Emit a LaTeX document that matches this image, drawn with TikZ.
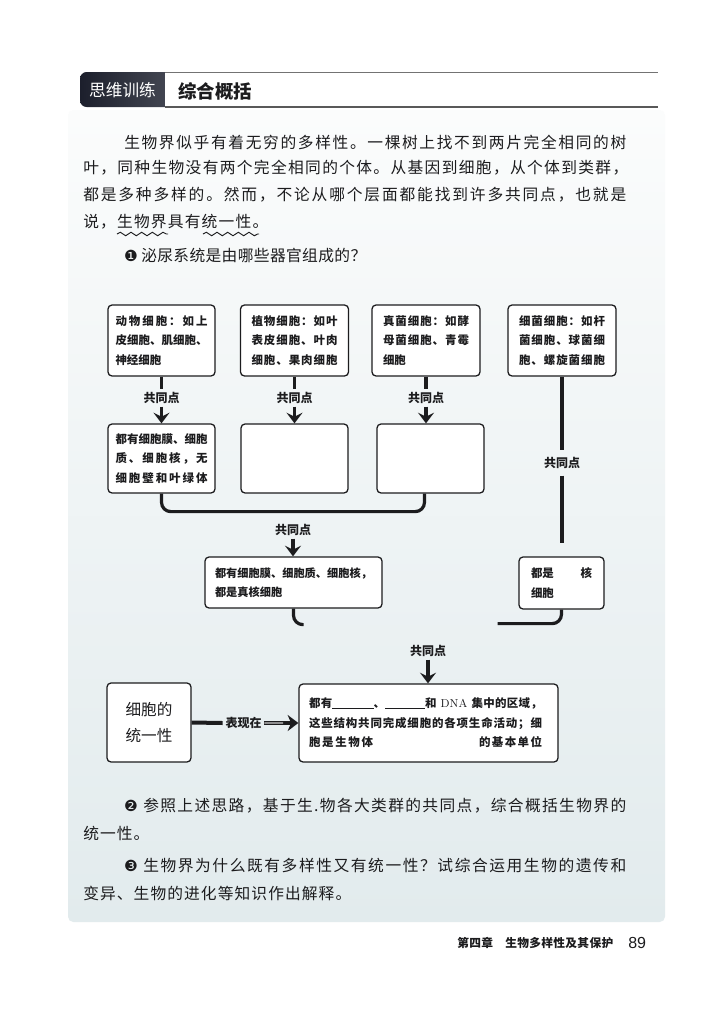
\documentclass[tikz,border=0pt]{standalone}
\usepackage{fontspec}
\newfontfamily\cjk{Noto Sans CJK SC}
\newfontfamily\dejavu{DejaVu Sans}
\newfontfamily\sansf{Liberation Sans}
\usetikzlibrary{arrows.meta,calc,decorations.pathmorphing}
\makeatletter
\def\jl@end{\jl@end}
\def\jl@a#1{\ifx#1\jl@end\else #1\expandafter\jl@b\fi}
\def\jl@b#1{\ifx#1\jl@end\else\hskip 0pt plus 1fil\relax #1\expandafter\jl@b\fi}
\newcommand\jl[2]{\makebox[\dimexpr #1pt*3/4\relax][s]{\jl@a#2\jl@end}}
\makeatother
\definecolor{ink}{RGB}{28,28,30}
\definecolor{hdA}{RGB}{28,31,44}
\definecolor{hdB}{RGB}{72,75,86}
\definecolor{panT}{RGB}{251,252,252}
\definecolor{panB}{RGB}{226,235,237}
\begin{document}
\begin{tikzpicture}[x=0.75pt,y=-0.75pt,
  body/.style={font=\cjk\fontsize{11.8}{13}\selectfont, inner sep=0pt, anchor=west, text=ink},
  cbox/.style={draw=ink, line width=0.95pt, rounded corners=3pt, fill=white, text=ink, align=left, inner ysep=0pt, font=\cjk\bfseries\fontsize{8.6}{14.6}\selectfont},
  lbl/.style={font=\cjk\bfseries\fontsize{9}{10}\selectfont, inner sep=2pt, text=ink},
  arr/.style={draw=ink, line width=2.3pt, -{Stealth[length=8pt,width=12pt,inset=3pt]}},
  stub/.style={draw=ink, line width=2.6pt},
  vline/.style={draw=ink, line width=3pt},
  bracket/.style={draw=ink, line width=2.4pt, rounded corners=7pt},
  wavy/.style={draw=ink, line width=0.7pt, decorate, decoration={snake, amplitude=1.3pt, segment length=8pt}},
  num/.style={font=\dejavu\fontsize{11.5}{13}\selectfont, inner sep=0pt, text=ink},
]
\useasboundingbox (0,0) rectangle (720,1018);
\fill[white] (0,0) rectangle (720,1018);
% panel
\shade[top color=panT, bottom color=panB, rounded corners=4pt] (68,110) rectangle (665,922);
% header
\shade[left color=hdA, right color=hdB, rounded corners=5pt] (80,72) rectangle (178,107);
\fill[white] (165,70) rectangle (180,109);
\node[font=\cjk\fontsize{12.5}{14}\selectfont, text=white, inner sep=0pt] (hd) at (122.5,90) {思维训练};
\node[font=\cjk\bfseries\fontsize{13.8}{16}\selectfont, text=ink, inner sep=0pt] (ht) at (215,91) {综合概括};
\draw[black!55, line width=0.7pt] (165,72) -- (658,72);
\draw[black!65, line width=0.9pt] (165,107) -- (658,107);
% paragraph
\node[body] (l1) at (124,142) {\jl{502}{生物界似乎有着无穷的多样性。一棵树上找不到两片完全相同的树}};
\node[body] (l2) at (83,168) {\jl{545}{叶，同种生物没有两个完全相同的个体。从基因到细胞，从个体到类群，}};
\node[body] (l3) at (83,195) {\jl{543}{都是多种多样的。然而，不论从哪个层面都能找到许多共同点，也就是}};
\node[body] (l4) at (83,222) {\jl{185}{说，生物界具有统一性。}};
\draw[wavy] ($(l4.west)+(34,12)$) -- ++(51,0);
\draw[wavy] ($(l4.west)+(120,12)$) -- ++(56,0);
\node[num] (n1) at (131,256) {❶};
\node[body] (q1) at (141,256) {\jl{225}{泌尿系统是由哪些器官组成的？}};
% row 1 boxes
\node[cbox, minimum height=53.25pt, inner xsep=5.625pt, text width=69pt] (A) at (161.5,340.5) {\jl{92}{动物细胞：如上}\\\jl{92}{皮细胞、肌细胞、}\\神经细胞};
\node[cbox, minimum height=53.25pt, inner xsep=8.25pt, text width=64.5pt] (B) at (294.5,340.5) {\jl{86}{植物细胞：如叶}\\\jl{86}{表皮细胞、叶肉}\\\jl{86}{细胞、果肉细胞}};
\node[cbox, minimum height=53.25pt, inner xsep=8.25pt, text width=64.5pt] (C) at (426,340.5) {\jl{86}{真菌细胞：如酵}\\\jl{86}{母菌细胞、青霉}\\细胞};
\node[cbox, minimum height=53.25pt, inner xsep=8.25pt, text width=64.5pt] (D) at (562,340.5) {\jl{86}{细菌细胞：如杆}\\\jl{86}{菌细胞、球菌细}\\\jl{86}{胞、螺旋菌细胞}};
% row 2 boxes
\node[cbox, minimum height=51.75pt, inner xsep=5.625pt, text width=69pt] (A2) at (161.5,458.5) {\jl{92}{都有细胞膜、细胞}\\\jl{92}{质、细胞核，无}\\\jl{92}{细胞壁和叶绿体}};
\node[cbox, minimum width=80.25pt, minimum height=51.75pt] (B2) at (294.5,458.5) {};
\node[cbox, minimum width=80.25pt, minimum height=51.75pt] (C2) at (430.5,458.5) {};
% labels and arrows row1 -> row2
\node[lbl] (pa) at (161.5,398) {共同点};
\node[lbl] (pb) at (294.5,398) {共同点};
\node[lbl] (pc) at (426,398) {共同点};
\draw[stub] (A.south) -- (pa.north);
\draw[stub] (B.south) -- (pb.north);
\draw[stub] (C.south) -- (pc.north);
\draw[arr] (pa.south) -- (A2.north);
\draw[arr] (pb.south) -- (B2.north);
\draw[arr] (pc.south) -- (pc.south |- C2.north);
% bracket row 2
\draw[bracket] (A2.south) |- ($(C2.south)+(-6,18)$) -- ($(C2.south)+(-6,0)$);
% eukaryote box
\node[cbox, font=\cjk\bfseries\fontsize{8.4}{14.25}\selectfont, minimum height=38.25pt, inner xsep=7.5pt, text width=117.75pt] (E) at (293.5,582.5) {\jl{157}{都有细胞膜、细胞质、细胞核，}\\都是真核细胞};
\node[lbl] (pe) at (293,530) {共同点};
\draw[arr] (pe.south) -- (pe.south |- E.north);
% prokaryote
\node[cbox, font=\cjk\bfseries\fontsize{8.6}{15}\selectfont, minimum height=39pt, inner xsep=9pt, text width=45.75pt] (F) at (561.5,583) {\makebox[45.75pt]{都是\hfill 核}\\细胞};
\node[lbl, inner ysep=5pt] (pd) at (562,463) {共同点};
\coordinate (fe) at ($(F.north)+(0,-13)$);
\draw[vline] (D.south) -- (pd.north);
\draw[vline] (pd.south) -- (pd.south |- fe);
% lower bracket pieces (visible parts)
\draw[bracket] (E.south) |- ($(E.south)+(10,16)$);
\draw[bracket] (F.south) |- ($(F.south)+(-64,14)$);
% final box
\node[lbl] (pg) at (428,651) {共同点};
\node[cbox, font=\cjk\bfseries\fontsize{8.6}{14.6}\selectfont, minimum height=58.5pt, inner xsep=7.5pt, text width=179.25pt] (G) at (428.5,723) {\makebox[174.75pt][s]{都\hfil 有\rule[-0.5pt]{31pt}{0.6pt}、\rule[-0.5pt]{30pt}{0.6pt}和\hfil\ {\rmfamily\mdseries DNA}\ \hfil 集\hfil 中\hfil 的\hfil 区\hfil 域\hfil ，}\\\jl{233}{这些结构共同完成细胞的各项生命活动；细}\\\makebox[174.75pt]{\jl{64}{胞是生物体}\hfill\jl{63}{的基本单位}}};
\draw[arr] (pg.south) -- (pg.south |- G.north);
\node[cbox, font=\cjk\fontsize{11.7}{19.5}\selectfont, align=center, minimum width=63pt, minimum height=59.25pt] (H) at (149,722.5) {细胞的\\统一性};
\node[lbl] (bx) at (243.5,723) {表现在};
\draw[draw=ink, line width=3pt] (H.east) -- (bx.west);
\draw[draw=ink, line width=2.6pt, -{Stealth[length=8pt,width=12pt,inset=2.5pt]}] (bx.east) -- (G.west);
\draw[draw=black!20, line width=0.8pt] (bx.east) -- ($(bx.east)!0.55!(G.west)$);
% questions 2 and 3
\node[num] (n2) at (131,806) {❷};
\node[body] (q2) at (143,806) {\jl{483}{参照上述思路，基于生.物各大类群的共同点，综合概括生物界的}};
\node[body] (q2b) at (83,833) {\jl{66}{统一性。}};
\node[num] (n3) at (131,866) {❸};
\node[body] (q3) at (143,866) {\jl{483}{生物界为什么既有多样性又有统一性？试综合运用生物的遗传和}};
\node[body] (q3b) at (83,893) {\jl{268}{变异、生物的进化等知识作出解释。}};
% footer
\node[font=\cjk\bfseries\fontsize{8.8}{10}\selectfont, anchor=west, inner sep=0pt, text=ink] (ft) at (457,943) {\jl{156}{第四章　生物多样性及其保护}};
\node[font=\sansf\fontsize{12}{14}\selectfont, anchor=west, inner sep=0pt, text=ink] (pgn) at (628,943) {89};
\end{tikzpicture}
\end{document}
